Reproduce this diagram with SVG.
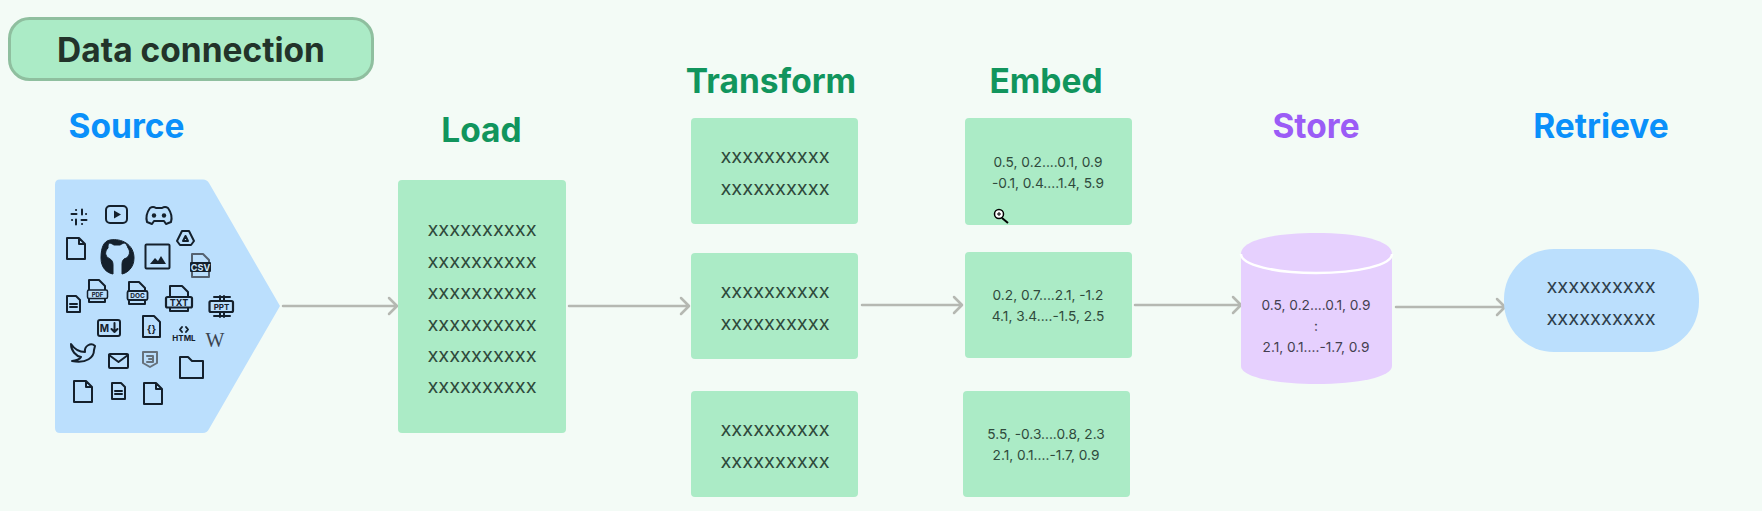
<svg xmlns="http://www.w3.org/2000/svg" width="1762" height="511" viewBox="0 0 1762 511">
<style>
text{font-family:Inter,"Liberation Sans",sans-serif}
.h{font-size:33.500px;font-weight:700;text-anchor:middle}
.x{font-size:20px;fill:#2f4a3c;text-anchor:middle;font-weight:400}
.n{font-size:13.700px;fill:#2f4a3c;text-anchor:middle}
.p{font-size:13.700px;fill:#443f50;text-anchor:middle}
.g{fill:#abebc6}
.c{fill:none;stroke:#b5b8b2;stroke-width:2.500;stroke-linecap:round;stroke-linejoin:round}
.i{fill:none;stroke:#14202c;stroke-width:2;stroke-linejoin:round;stroke-linecap:round}
.f{fill:#14202c}
.t{font-size:8px;font-weight:700;text-anchor:middle;fill:#14202c}
</style>
<defs>
<g id="doc"><path class="i" d="M0 0H12L18 6V21H0Z M12 0V6H18"/></g>
<g id="ldoc"><path class="i" d="M0 0H9L13 4V16H0Z M3 8H10M3 11H10"/></g>
</defs>
<rect width="1762" height="511" fill="#f3fbf6"/>
<g id="data-connection">
<rect x="9.500" y="18.500" width="363" height="61" rx="20" fill="#abebc6" stroke="#8fbf9f" stroke-width="3"/>
<text x="191" y="62" font-size="33.500" font-weight="700" text-anchor="middle" fill="#22332a">Data connection</text>
</g>
<g id="connectors">
<path class="c" d="M283 306H396M389 298L397 306L389 314"/>
<path class="c" d="M569 306H688M681 298L689 306L681 314"/>
<path class="c" d="M862 305H961M954 297L962 305L954 313"/>
<path class="c" d="M1135 305H1240M1233 297L1241 305L1233 313"/>
<path class="c" d="M1396 307H1504M1497 299L1505 307L1497 315"/>
</g>
<g id="source">
<text class="h" x="126.500" y="138" fill="#0a90fa">Source</text>
<path d="M60 179.500H203Q207 179.500 209 183L280 306L209 429Q207 433 203 433H60Q55 433 55 428V184.500Q55 179.500 60 179.500Z" fill="#bbdffd"/>
<g id="source-icons">
<path class="i" d="M71.500 214H76.500M76 210H76.100M82 209.500V214.500M86 214H86.100M81.500 220H86.500M82 224H82.100M76 219.500V224.500M72 220H72.100" stroke-width="2.500"/>
<rect class="i" x="106" y="206" width="21" height="17" rx="4"/>
<path class="f" d="M114 210.500L121 214.500L114 218.500Z"/>
<path class="i" d="M147 222Q145 215 150 208Q153 206 156 208H162Q165 206 168 208Q173 215 171 222L166 224L164 221H154L152 224Z"/>
<circle class="f" cx="154" cy="215.500" r="2.200"/><circle class="f" cx="164" cy="215.500" r="2.200"/>
<path class="i" d="M182 231H189L194 241L191 245H180L177 241ZM185.500 236L188 241H183Z" stroke-width="1.800"/>
<use href="#doc" x="67" y="238"/>
<path d="M110 240C121 238 134 244 134 258C134 268 127 273 122 274V265C122 261 123 260 124 259C131 257 130 250 128 248C127 245 126 244 125 243C123 243 122 244 120 245H114C112 244 111 243 109 243C108 245 108 246 108 248C105 251 104 256 110 259C112 260 113 262 113 265V274C107 273 101 268 101 258C101 247 104 241 110 240Z" class="f" stroke="#14202c" stroke-width="1"/>
<rect class="i" x="145.500" y="244.500" width="24" height="24" rx="1" stroke-width="2.500"/>
<path class="f" d="M150 264L155 258L158 261L161 256L166 264Z"/>
<path class="i" d="M192 254H203L209 260V277H192Z" stroke-width="1.500" style="stroke:#556270"/>
<rect class="f" x="190" y="262" width="21" height="10" rx="1"/>
<text class="t" x="200.500" y="270.500" style="fill:#cfe6fb;font-size:9px">CSV</text>
<use href="#ldoc" x="67" y="296"/>
<path class="i" d="M89 280H99L105 286V302H89Z" stroke-width="1.800"/>
<rect x="87.500" y="290" width="20" height="8.500" rx="1.500" fill="#bbdffd" stroke="#14202c" stroke-width="1.500"/>
<text class="t" x="97.500" y="296.500" style="font-size:6px">PDF</text>
<path class="i" d="M129 282H139L145 288V304H129Z" stroke-width="1.800"/>
<rect x="127.500" y="291" width="20" height="9" rx="1.500" fill="#bbdffd" stroke="#14202c" stroke-width="1.800"/>
<text class="t" x="137.500" y="298" style="font-size:6.500px">DOC</text>
<path class="i" d="M170 286H182L188 292V311H170Z" stroke-width="2"/>
<rect x="166" y="297" width="26" height="10.500" rx="1.500" fill="#bbdffd" stroke="#14202c" stroke-width="2.200"/>
<text class="t" x="179" y="306" style="font-size:9px">TXT</text>
<path class="i" d="M214 297H230M214 316H230M220 296V301M224 296V301M220 312V317M224 312V317" stroke-width="2.500"/>
<rect x="209.500" y="301" width="23.500" height="11" rx="1.500" fill="#bbdffd" stroke="#14202c" stroke-width="2.200"/>
<text class="t" x="221.500" y="310" style="font-size:8px">PPT</text>
<rect class="i" x="98" y="320" width="22" height="16" rx="2" stroke-width="1.800"/>
<text class="t" x="104.500" y="332" style="font-size:10px">M</text>
<path class="i" d="M114.500 323V332M111.500 329L114.500 332L117.500 329" stroke-width="1.500"/>
<path class="i" d="M143 316H154L160 322V337H143Z"/>
<text class="t" x="151.500" y="333" style="font-size:10px">{}</text>
<path class="i" d="M182 327L180 329.500L182 332M186 327L188 329.500L186 332" stroke-width="1.500"/>
<text class="t" x="184" y="341" style="font-size:8px">HTML</text>
<text x="215" y="347" font-size="20" text-anchor="middle" fill="#3a4450" style="font-family:'Liberation Serif',serif">W</text>
<path class="i" stroke-width="2.500" d="M71 344C75 350 80 352 85 352C84 346 91 342 95 346L94 350C94 357 87 364 72 361C76 361 80 359 81 357C76 356 71 351 71 344Z"/>
<rect class="i" x="109" y="354" width="19" height="14" rx="1"/>
<path class="i" d="M109 355L118.500 362L128 355"/>
<path class="i" d="M143 352H157V363L150 367L143 363Z" style="stroke:#66727c" stroke-width="1.500"/>
<path class="i" d="M147 356H153V362H147M149 359H153" style="stroke:#66727c" stroke-width="1.200"/>
<path class="i" d="M180 357H188L192 361H203V378H180Z"/>
<use href="#doc" x="74" y="381"/>
<use href="#ldoc" x="112" y="383"/>
<use href="#doc" x="144" y="383"/>
</g>
</g>
<g id="load">
<text class="h" x="481.500" y="142" fill="#11955d">Load</text>
<rect class="g" x="398" y="180" width="168" height="253" rx="4"/>
<text class="x" x="482" y="236">xxxxxxxxxx</text>
<text class="x" x="482" y="268">xxxxxxxxxx</text>
<text class="x" x="482" y="299">xxxxxxxxxx</text>
<text class="x" x="482" y="331">xxxxxxxxxx</text>
<text class="x" x="482" y="362">xxxxxxxxxx</text>
<text class="x" x="482" y="393">xxxxxxxxxx</text>
</g>
<g id="transform">
<text class="h" x="771" y="93" fill="#11955d">Transform</text>
<g id="transform-1"><rect class="g" x="691" y="118" width="167" height="106" rx="4"/>
<text class="x" x="775" y="163">xxxxxxxxxx</text><text class="x" x="775" y="195">xxxxxxxxxx</text></g>
<g id="transform-2"><rect class="g" x="691" y="253" width="167" height="106" rx="4"/>
<text class="x" x="775" y="298">xxxxxxxxxx</text><text class="x" x="775" y="330">xxxxxxxxxx</text></g>
<g id="transform-3"><rect class="g" x="691" y="391" width="167" height="106" rx="4"/>
<text class="x" x="775" y="436">xxxxxxxxxx</text><text class="x" x="775" y="468">xxxxxxxxxx</text></g>
</g>
<g id="embed">
<text class="h" x="1046" y="93" fill="#11955d">Embed</text>
<g id="embed-1"><rect class="g" x="965" y="118" width="167" height="107" rx="4"/>
<text class="n" x="1048" y="167">0.5, 0.2....0.1, 0.9</text><text class="n" x="1048" y="188">-0.1, 0.4....1.4, 5.9</text></g>
<g id="embed-2"><rect class="g" x="965" y="252" width="167" height="106" rx="4"/>
<text class="n" x="1048" y="300">0.2, 0.7....2.1, -1.2</text><text class="n" x="1048" y="321">4.1, 3.4....-1.5, 2.5</text></g>
<g id="embed-3"><rect class="g" x="963" y="391" width="167" height="106" rx="4"/>
<text class="n" x="1046" y="439">5.5, -0.3....0.8, 2.3</text><text class="n" x="1046" y="460">2.1, 0.1....-1.7, 0.9</text></g>
</g>
<g id="store">
<text class="h" x="1316" y="138" fill="#9b5cf6">Store</text>
<path d="M1241 254C1241 240 1275 233 1316 233C1358 233 1392 240 1392 254V366C1392 377 1358 384 1316 384C1275 384 1241 377 1241 366Z" fill="#e6d0fe"/>
<path d="M1241 254C1241 265 1275 273 1316 273C1358 273 1392 265 1392 254" fill="none" stroke="#fff" stroke-width="2.500"/>
<text class="p" x="1316" y="310">0.5, 0.2....0.1, 0.9</text>
<text class="p" x="1316" y="331">:</text>
<text class="p" x="1316" y="352">2.1, 0.1....-1.7, 0.9</text>
</g>
<g id="retrieve">
<text class="h" x="1601" y="138" fill="#0a90fa">Retrieve</text>
<rect x="1504" y="249" width="195" height="103" rx="50" fill="#bbdffd"/>
<text class="x" x="1601" y="293" style="fill:#2f3f4c">xxxxxxxxxx</text>
<text class="x" x="1601" y="325" style="fill:#2f3f4c">xxxxxxxxxx</text>
</g>
<g id="cursor">
<circle cx="999" cy="214" r="4.500" fill="#fff" stroke="#000" stroke-width="1.500"/>
<path d="M1002 218L1008 223" stroke="#000" stroke-width="2"/>
<path d="M997 214H1001M999 212V216" stroke="#000" stroke-width="1"/>
</g>
</svg>
